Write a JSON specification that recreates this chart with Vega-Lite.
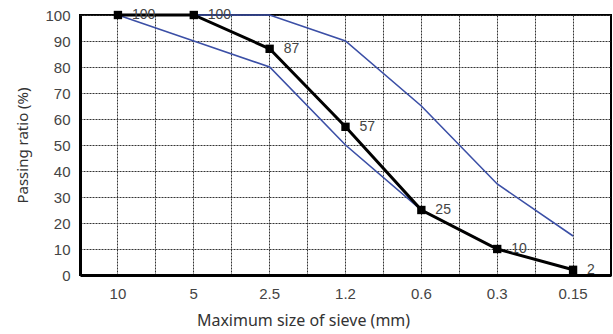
{
  "$schema": "https://vega.github.io/schema/vega-lite/v6.json",
  "width": 531,
  "height": 260,
  "autosize": {"type": "none"},
  "padding": {"left": 80, "top": 15, "right": 2, "bottom": 59},
  "background": "white",
  "config": {
    "view": {"stroke": "#000", "strokeWidth": 2},
    "font": "Noto Sans",
    "axis": {
      "labelFont": "Liberation Sans",
      "labelFontSize": 14,
      "labelColor": "#444",
      "titleColor": "#333",
      "titleFont": "Noto Sans",
      "titleFontWeight": "normal",
      "gridColor": "#333",
      "gridDash": [2, 1],
      "gridWidth": 1,
      "gridOpacity": 1
    }
  },
  "data": {
    "values": [
      {"sieve": "10", "series": "upper", "value": 100},
      {"sieve": "5", "series": "upper", "value": 100},
      {"sieve": "2.5", "series": "upper", "value": 100},
      {"sieve": "1.2", "series": "upper", "value": 90},
      {"sieve": "0.6", "series": "upper", "value": 65},
      {"sieve": "0.3", "series": "upper", "value": 35},
      {"sieve": "0.15", "series": "upper", "value": 15},
      {"sieve": "10", "series": "lower", "value": 100},
      {"sieve": "5", "series": "lower", "value": 90},
      {"sieve": "2.5", "series": "lower", "value": 80},
      {"sieve": "1.2", "series": "lower", "value": 50},
      {"sieve": "0.6", "series": "lower", "value": 25},
      {"sieve": "0.3", "series": "lower", "value": 10},
      {"sieve": "0.15", "series": "lower", "value": 2},
      {"sieve": "10", "series": "measured", "value": 100},
      {"sieve": "5", "series": "measured", "value": 100},
      {"sieve": "2.5", "series": "measured", "value": 87},
      {"sieve": "1.2", "series": "measured", "value": 57},
      {"sieve": "0.6", "series": "measured", "value": 25},
      {"sieve": "0.3", "series": "measured", "value": 10},
      {"sieve": "0.15", "series": "measured", "value": 2}
    ]
  },
  "resolve": {"axis": {"x": "independent"}},
  "layer": [
    {
      "transform": [{"filter": "datum.series !== 'measured'"}],
      "mark": {"type": "line", "color": "#3b4fa6", "strokeWidth": 1.6},
      "encoding": {
        "x": {
          "field": "sieve", "type": "ordinal",
          "scale": {"type": "band", "paddingInner": 0, "paddingOuter": 0, "domain": ["10", "5", "2.5", "1.2", "0.6", "0.3", "0.15"]},
          "axis": {"orient": "top", "bandPosition": 0, "labels": false, "ticks": false, "domain": false, "title": null, "grid": true}
        },
        "y": {
          "field": "value", "type": "quantitative",
          "scale": {"domain": [0, 100], "nice": false},
          "axis": {"values": [0,10,20,30,40,50,60,70,80,90,100], "grid": true, "ticks": false, "labelPadding": 10, "labelFontSize": 15, "domainColor": "#000", "domainWidth": 3, "title": "Passing ratio (%)", "titleFontSize": 15, "titlePadding": 14}
        },
        "detail": {"field": "series"}
      }
    },
    {
      "transform": [{"filter": "datum.series === 'measured'"}],
      "mark": {"type": "line", "color": "#000", "strokeWidth": 3, "point": {"shape": "square", "size": 70, "filled": true, "color": "#000"}},
      "encoding": {
        "x": {
          "field": "sieve", "type": "ordinal",
          "scale": {"type": "band", "paddingInner": 0, "paddingOuter": 0, "domain": ["10", "5", "2.5", "1.2", "0.6", "0.3", "0.15"]},
          "axis": {"orient": "bottom", "labelAngle": 0, "labelFontSize": 15, "grid": true, "ticks": false, "labelPadding": 11, "domainColor": "#000", "domainWidth": 3, "title": "Maximum size of sieve (mm)", "titleFontSize": 16, "titlePadding": 11, "titleX": 223, "titleAlign": "center"}
        },
        "y": {
          "field": "value", "type": "quantitative",
          "axis": {"values": [0,10,20,30,40,50,60,70,80,90,100], "grid": true, "ticks": false, "labelPadding": 10, "labelFontSize": 15, "domainColor": "#000", "domainWidth": 3, "title": "Passing ratio (%)", "titleFontSize": 15, "titlePadding": 14}
        }
      }
    },
    {
      "transform": [{"filter": "datum.series === 'measured'"}],
      "mark": {"type": "text", "align": "left", "baseline": "middle", "dx": 14, "fontSize": 14, "font": "Liberation Sans", "color": "#444"},
      "encoding": {
        "x": {"field": "sieve", "type": "ordinal", "axis": null},
        "y": {
          "field": "value", "type": "quantitative",
          "axis": {"values": [0,10,20,30,40,50,60,70,80,90,100], "grid": true, "ticks": false, "labelPadding": 10, "labelFontSize": 15, "domainColor": "#000", "domainWidth": 3, "title": "Passing ratio (%)", "titleFontSize": 15, "titlePadding": 14}
        },
        "text": {"field": "value", "type": "quantitative"}
      }
    }
  ]
}
